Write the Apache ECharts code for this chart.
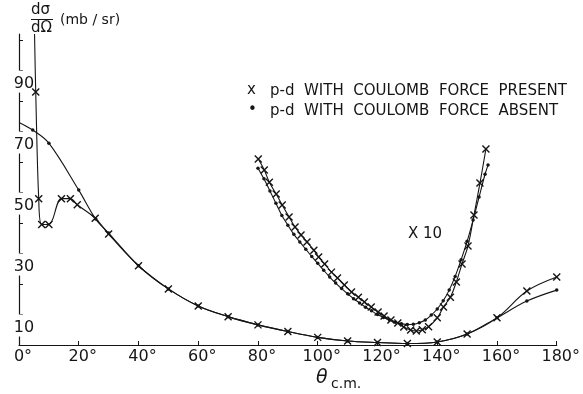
<!DOCTYPE html>
<html>
<head>
<meta charset="utf-8">
<script src="https://cdn.jsdelivr.net/npm/echarts@6/dist/echarts.min.js"></script>
<style>
  html, body { margin: 0; padding: 0; background: #fff; }
  #chart { width: 583px; height: 394px; }
</style>
</head>
<body>
<div id="chart"></div>
<script>
// main curves (mb/sr)
const presentAngle = [5.2, 5.6, 6.6, 7.6, 10, 14.2, 17.2, 19.5, 25.5, 30, 40, 50, 60, 70, 80, 90, 100, 110, 120, 130, 140, 150, 160, 170, 180]
const presentValue = [102, 83, 48, 39.5, 39.5, 48, 48, 46, 41.6, 36.4, 26, 18.4, 12.8, 9.3, 6.6, 4.4, 2.5, 1.3, 0.8, 0.5, 1.0, 3.6, 8.9, 17.7, 22.3]
const absentAngle = [0, 4.6, 10, 20, 25.7, 30, 40, 50, 60, 70, 80, 90, 100, 110, 120, 130, 140, 150, 160, 170, 180]
const absentValue = [73, 70.5, 66.2, 50.8, 41.3, 36.7, 26, 18.4, 12.8, 9.3, 6.6, 4.4, 2.5, 1.3, 0.8, 0.5, 1.0, 3.6, 8.9, 14.4, 18]

// curves drawn x 10
const present10Angle = [80.1, 82.1, 83.8, 86.1, 88.1, 90.4, 92.4, 94.4, 96.4, 98.7, 100.3, 102.3, 104.6, 106.6, 108.9, 111.3, 113.6, 115.6, 117.9, 120.2, 122.2, 124.5, 126.8, 128.8, 131.1, 133, 135, 137.1, 140, 142.1, 144.4, 146.4, 148.3, 150.3, 152.3, 154.3, 156.3]
const present10Value = [61.0, 57.4, 53.4, 49.5, 45.9, 42.0, 38.7, 36.1, 33.8, 31.1, 28.9, 26.6, 23.9, 22.0, 19.7, 17.4, 15.7, 14.1, 12.5, 10.8, 9.5, 8.2, 7.2, 5.9, 4.9, 4.6, 5.0, 6.0, 8.9, 12.5, 15.7, 20.7, 26.6, 32.5, 42.6, 53.1, 64.3]
const absent10Angle = [80, 82, 84, 86, 88, 90, 92, 94, 96, 98, 100, 102, 104, 106, 108, 110, 112, 114, 116, 118, 120, 122, 124, 126, 128, 130, 132, 134, 136, 138, 140, 142, 144, 146, 148, 150, 152, 154, 156, 157]
const absent10Value = [58, 54.5, 50.5, 46.5, 42.5, 39.3, 36.3, 33.8, 31.4, 29.0, 26.8, 24.5, 22.3, 20.3, 18.5, 16.8, 15.2, 13.8, 12.4, 11.2, 10.0, 9.0, 8.2, 7.5, 7.0, 6.7, 6.8, 7.3, 8.2, 9.8, 11.8, 14.5, 18.0, 22.5, 28.0, 34.0, 41.0, 48.5, 56.0, 59]

const xTicks = [0, 20, 40, 60, 80, 100, 120, 140, 160, 180]
const yTicks = [0, 10, 20, 30, 40, 50, 60, 70, 80, 90, 100]
const yLabels = [10, 30, 50, 70, 90]

const ink = '#151515'
const font = 'DejaVu Sans'
const crossPath = 'path://M0,0L10,10M10,0L0,10'

function pairs(xs, ys) {
  return xs.map((x, i) => [x, ys[i]])
}

function curve(name, data, marker) {
  const isCross = marker === 'x'
  return {
    name: name,
    type: 'line',
    smooth: 0.35,
    data: data,
    symbol: isCross ? crossPath : 'circle',
    symbolSize: isCross ? 7 : 3.5,
    showAllSymbol: true,
    lineStyle: { color: ink, width: 1.1 },
    itemStyle: isCross
      ? { color: 'rgba(0,0,0,0)', borderColor: ink, borderWidth: 1.4 }
      : { color: ink, borderWidth: 0 },
    emphasis: { disabled: true },
    z: isCross ? 3 : 2
  }
}

const presentData = pairs(presentAngle, presentValue)
// top end of the curve leaves the frame, no marker there
presentData[0] = { value: presentData[0], symbol: 'none' }
const absentData = pairs(absentAngle, absentValue)
absentData[0] = { value: absentData[0], symbol: 'none' }

const chart = echarts.init(document.getElementById('chart'))
chart.setOption({
  animation: false,
  backgroundColor: '#fff',
  grid: { left: 19, right: 20, top: 34, bottom: 49 },
  xAxis: {
    type: 'value',
    min: 0,
    max: 180,
    interval: 20,
    axisLine: { lineStyle: { color: ink, width: 1.2 } },
    axisTick: { inside: true, length: 4, customValues: xTicks, lineStyle: { color: ink } },
    splitLine: { show: false },
    axisLabel: {
      customValues: xTicks,
      formatter: v => v + '°',
      color: ink,
      fontFamily: font,
      fontSize: 16,
      margin: 4,
      padding: [0, 0, 0, 8]
    }
  },
  yAxis: {
    type: 'value',
    min: 0,
    max: 102,
    axisLine: { show: true, lineStyle: { color: ink, width: 1.2 } },
    axisTick: { show: true, inside: true, length: 4, customValues: yTicks, lineStyle: { color: ink } },
    splitLine: { show: false },
    axisLabel: {
      customValues: yLabels,
      color: ink,
      fontFamily: font,
      fontSize: 16,
      align: 'center',
      verticalAlign: 'top',
      margin: -5,
      padding: [5, 1, 1, 1],
      backgroundColor: '#fff'
    }
  },
  graphic: [
    { type: 'text', left: 31, top: 3, style: { text: 'dσ', font: '15px "DejaVu Sans"', fill: ink } },
    { type: 'line', shape: { x1: 31, y1: 19.5, x2: 53, y2: 19.5 }, style: { stroke: ink, lineWidth: 1 } },
    { type: 'text', left: 31, top: 21, style: { text: 'dΩ', font: '15px "DejaVu Sans"', fill: ink } },
    { type: 'text', left: 60, top: 13, style: { text: '(mb / sr)', font: '14px "DejaVu Sans"', fill: ink } },
    { type: 'text', left: 247, top: 83, style: { text: 'x', font: '15px "DejaVu Sans"', fill: ink } },
    { type: 'text', left: 270, top: 84, style: { text: 'p-d  WITH  COULOMB  FORCE  PRESENT', font: '15px "DejaVu Sans"', fill: ink } },
    { type: 'text', left: 248, top: 103, style: { text: '•', font: '15px "DejaVu Sans"', fill: ink } },
    { type: 'text', left: 270, top: 104, style: { text: 'p-d  WITH  COULOMB  FORCE  ABSENT', font: '15px "DejaVu Sans"', fill: ink } },
    { type: 'text', left: 408, top: 227, style: { text: 'X 10', font: '15px "DejaVu Sans"', fill: ink } },
    { type: 'text', left: 316, top: 369, style: { text: 'θ', font: 'italic 19px "DejaVu Sans"', fill: ink } },
    { type: 'text', left: 331, top: 377, style: { text: 'c.m.', font: '14px "DejaVu Sans"', fill: ink } }
  ],
  series: [
    curve('p-d WITH COULOMB FORCE ABSENT', absentData, 'dot'),
    curve('p-d WITH COULOMB FORCE PRESENT', presentData, 'x'),
    curve('p-d WITH COULOMB FORCE ABSENT x10', pairs(absent10Angle, absent10Value), 'dot'),
    curve('p-d WITH COULOMB FORCE PRESENT x10', pairs(present10Angle, present10Value), 'x')
  ]
})
</script>
</body>
</html>
